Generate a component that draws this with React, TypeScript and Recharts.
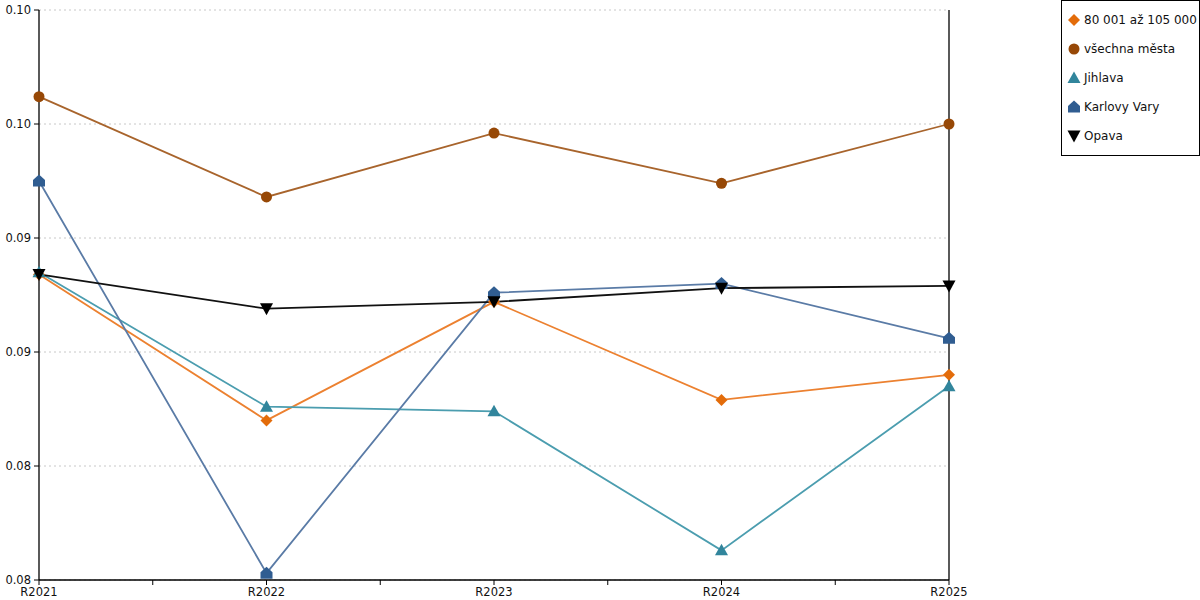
import React from 'react';
import { LineChart, Line, XAxis, YAxis, CartesianGrid, ReferenceLine } from 'recharts';

const years = ['R2021', 'R2022', 'R2023', 'R2024', 'R2025'];

const pasmo = [0.0934, 0.087, 0.0922, 0.0879, 0.089];
const vsechnaMesta = [0.1012, 0.0968, 0.0996, 0.0974, 0.1];
const jihlava = [0.0935, 0.0876, 0.0874, 0.0813, 0.0885];
const karlovyVary = [0.0975, 0.0803, 0.0926, 0.093, 0.0906];
const opava = [0.0934, 0.0919, 0.0922, 0.0928, 0.0929];

const yTicks = [0.08, 0.085, 0.09, 0.095, 0.1, 0.105];
const yTickLabels = ['0.08', '0.08', '0.09', '0.09', '0.10', '0.10'];
const xTicks = [0, 0.5, 1, 1.5, 2, 2.5, 3, 3.5, 4];

const data = years.map((y, i) => ({
  x: i,
  pasmo: pasmo[i],
  mesta: vsechnaMesta[i],
  jihlava: jihlava[i],
  kv: karlovyVary[i],
  opava: opava[i],
}));

type Shape = 'diamond' | 'circle' | 'triangle' | 'house' | 'down';

const marker = (shape: Shape, cx: number, cy: number, fill: string, key?: string) => {
  switch (shape) {
    case 'diamond':
      return <path key={key} d={`M${cx},${cy - 6}L${cx + 6},${cy}L${cx},${cy + 6}L${cx - 6},${cy}Z`} fill={fill} />;
    case 'circle':
      return <circle key={key} cx={cx} cy={cy} r={5.5} fill={fill} />;
    case 'triangle':
      return <path key={key} d={`M${cx},${cy - 6.5}L${cx + 6.5},${cy + 5}L${cx - 6.5},${cy + 5}Z`} fill={fill} />;
    case 'house':
      return <path key={key} d={`M${cx},${cy - 6.5}L${cx + 6},${cy - 1}L${cx + 6},${cy + 5.5}L${cx - 6},${cy + 5.5}L${cx - 6},${cy - 1}Z`} fill={fill} />;
    case 'down':
      return <path key={key} d={`M${cx - 6.5},${cy - 5.5}L${cx + 6.5},${cy - 5.5}L${cx},${cy + 6.5}Z`} fill={fill} />;
  }
};

const series = [
  { key: 'pasmo', name: '80 001 až 105 000', line: '#EC8130', fill: '#E36C0A', shape: 'diamond' as Shape },
  { key: 'mesta', name: 'všechna města', line: '#A8642C', fill: '#974806', shape: 'circle' as Shape },
  { key: 'jihlava', name: 'Jihlava', line: '#4B9DAF', fill: '#31859C', shape: 'triangle' as Shape },
  { key: 'kv', name: 'Karlovy Vary', line: '#5A7BA6', fill: '#305D91', shape: 'house' as Shape },
  { key: 'opava', name: 'Opava', line: '#111111', fill: '#000000', shape: 'down' as Shape },
];

const font = '"DejaVu Sans", Verdana, sans-serif';

export default function App() {
  return (
    <div style={{ position: 'absolute', left: 0, top: 0, width: 1200, height: 600, background: '#fff', fontFamily: font }}>
      <LineChart width={1200} height={600} data={data} margin={{ top: 10, right: 251, bottom: 0, left: 0 }}>
        <CartesianGrid yAxisId="left" horizontal vertical={false} stroke="#c8c8c8" strokeDasharray="2 3" />
        <XAxis
          dataKey="x"
          type="number"
          domain={[0, 4]}
          ticks={xTicks}
          interval={0}
          tickFormatter={(v: number) => (Number.isInteger(v) ? years[v] : '')}
          height={20}
          tickSize={5}
          tickMargin={3}
          axisLine={{ stroke: '#000', strokeWidth: 1.3 }}
          tickLine={{ stroke: '#000' }}
          tick={{ fill: '#111', fontSize: 11.5, fontFamily: font }}
        />
        <YAxis
          yAxisId="left"
          domain={[0.08, 0.105]}
          ticks={yTicks}
          interval={0}
          tickFormatter={(v: number) => yTickLabels[yTicks.indexOf(v)] ?? ''}
          width={39}
          tickSize={5}
          tickMargin={3}
          axisLine={{ stroke: '#000', strokeWidth: 1.3 }}
          tickLine={{ stroke: '#000' }}
          tick={{ fill: '#111', fontSize: 11.5, fontFamily: font }}
          allowDataOverflow
        />
        <ReferenceLine yAxisId="left" x={4} stroke="#000" strokeWidth={1.3} />
        {series.map((s) => (
          <Line
            key={s.key}
            yAxisId="left"
            dataKey={s.key}
            name={s.name}
            type="linear"
            stroke={s.line}
            strokeWidth={1.8}
            isAnimationActive={false}
            dot={(p: any) => marker(s.shape, p.cx, p.cy, s.fill, `${s.key}-${p.index}`)}
            activeDot={false}
          />
        ))}
      </LineChart>
      <div
        style={{
          position: 'absolute',
          left: 1061,
          top: 0,
          width: 137,
          height: 154,
          border: '1px solid #000',
          background: '#fff',
          fontSize: 12,
          color: '#111',
        }}
      >
        {series.map((s, i) => (
          <div key={s.key} style={{ position: 'absolute', left: 5, top: 11 + i * 29, display: 'flex', alignItems: 'center', whiteSpace: 'nowrap' }}>
            <svg width={14} height={16} style={{ marginRight: 3 }}>
              {marker(s.shape, 7, 8, s.fill)}
            </svg>
            <span>{s.name}</span>
          </div>
        ))}
      </div>
    </div>
  );
}
